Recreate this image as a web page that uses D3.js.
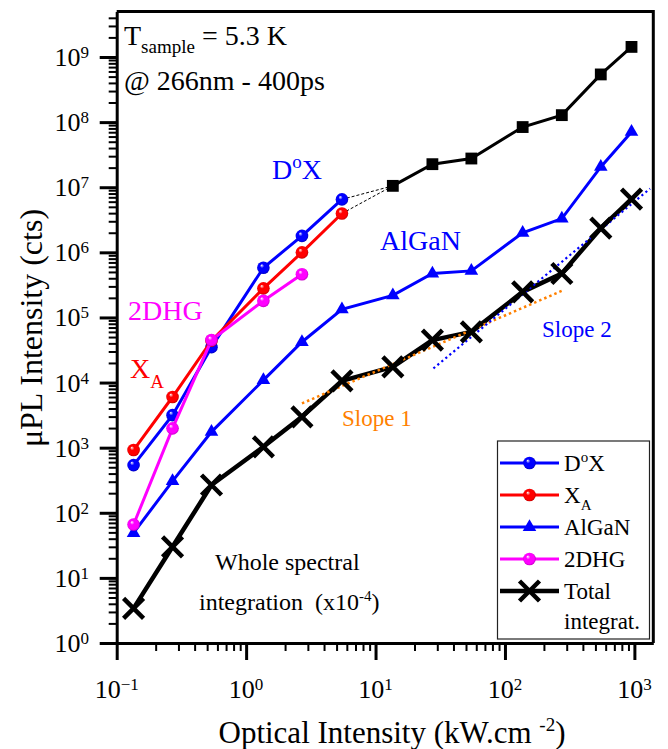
<!DOCTYPE html>
<html>
<head>
<meta charset="utf-8">
<script src="https://cdn.jsdelivr.net/npm/d3@7"></script>
<style>
  html, body { margin: 0; padding: 0; background: #fff; }
  svg { display: block; }
</style>
</head>
<body>
<div id="chart"></div>
<script>
// Excitation power densities (kW/cm^2)
const excitation = [0.135, 0.27, 0.54, 1.36, 2.7, 5.5, 13.6, 27.5, 55, 137, 275, 550, 950];

// Low-power emission lines (first points of the excitation list)
const doxLow  = [540, 3160, 35000, 580000, 1.79e6, 6.5e6];
const xaLow   = [920, 6000, 44000, 280000, 1.0e6, 3.95e6];
const dhgLow  = [66, 1980, 45000, 180000, 460000];
// D°X continued at high power (excitation points 7..13)
const doxHigh = [1.05e7, 2.26e7, 2.76e7, 8.4e7, 1.28e8, 5.4e8, 1.43e9];
// AlGaN barrier emission
const algan   = [49, 307, 1750, 10900, 42000, 133000, 218000, 473000, 519000, 2.0e6, 3.3e6, 2.05e7, 7.07e7];
// Whole spectral integration (x1e-4)
const total   = [3.4, 30, 267, 1030, 2980, 10600, 17400, 44800, 60000, 247000, 473000, 2.35e6, 6.55e6];

// Power-law fit guides
const slope1X = [2.7, 275],  slope1Y = [4780, 256000];
const slope2X = [28, 1320],  slope2Y = [16500, 9.5e6];

// Axis ticks
const xMajor = [0.1, 1, 10, 100, 1000];
const yMajor = [1, 10, 100, 1e3, 1e4, 1e5, 1e6, 1e7, 1e8, 1e9];

// Legend entries
const legendNames = ["D°X", "XA", "AlGaN", "2DHG", "Total"];

const W = 668, H = 749;
const BLUE = "#0000ff", RED = "#ff0000", MAG = "#ff00ff", ORANGE = "#ff8000";

const svg = d3.select("#chart").append("svg")
  .attr("width", W).attr("height", H)
  .style("font-family", "'Liberation Serif','Times New Roman',serif");

const x = d3.scaleLog().domain([0.1, 1400]).range([116.7, 653.3]);
const y = d3.scaleLog().domain([1, 5e9]).range([643, 11.5]);

// Shaded-sphere gradients for ball markers
const defs = svg.append("defs");
function ballGrad(id, base, dark) {
  const g = defs.append("radialGradient").attr("id", id)
    .attr("cx", "50%").attr("cy", "50%").attr("r", "55%")
    .attr("fx", "35%").attr("fy", "30%");
  g.append("stop").attr("offset", "0%").attr("stop-color", "#ffffff");
  g.append("stop").attr("offset", "30%").attr("stop-color", base);
  g.append("stop").attr("offset", "75%").attr("stop-color", base);
  g.append("stop").attr("offset", "100%").attr("stop-color", dark);
}
ballGrad("ball-blue", BLUE, "#0000a8");
ballGrad("ball-red", RED, "#b40000");
ballGrad("ball-mag", MAG, "#b400b4");

function minorTicks(lo, hi) {
  const out = [];
  for (let e = Math.floor(Math.log10(lo)); e <= Math.ceil(Math.log10(hi)); e++) {
    for (let k = 2; k <= 9; k++) {
      const v = k * Math.pow(10, e);
      if (v > lo * 1.0001 && v < hi * 0.9999) out.push(v);
    }
  }
  return out;
}
const expText = d => { const e = Math.round(Math.log10(d)); return e < 0 ? "\u2212" + (-e) : String(e); };

// ---- Axes ----
const gxMinor = svg.append("g").attr("transform", "translate(0,643)")
  .call(d3.axisBottom(x).tickValues(minorTicks(0.1, 1400)).tickSize(8).tickSizeOuter(0).tickFormat(""));
const gxMajor = svg.append("g").attr("transform", "translate(0,643)")
  .call(d3.axisBottom(x).tickValues(xMajor).tickSize(17).tickSizeOuter(0).tickFormat(""));
const gyMinor = svg.append("g").attr("transform", "translate(116.7,0)")
  .call(d3.axisLeft(y).tickValues(minorTicks(1, 5e9)).tickSize(8).tickSizeOuter(0).tickFormat(""));
const gyMajor = svg.append("g").attr("transform", "translate(116.7,0)")
  .call(d3.axisLeft(y).tickValues(yMajor).tickSize(17).tickSizeOuter(0).tickFormat(""));

[gxMinor, gyMinor].forEach(g => {
  g.selectAll(".tick line").attr("stroke", "#000").attr("stroke-width", 2);
  g.select(".domain").remove();
});
[gxMajor, gyMajor].forEach(g => {
  g.selectAll(".tick line").attr("stroke", "#000").attr("stroke-width", 3);
  g.select(".domain").attr("stroke", "#000").attr("stroke-width", 3);
});

// Top and right frame
svg.append("path")
  .attr("d", `M${x.range()[0]},${y.range()[1]}H${x.range()[1]}V${y.range()[0]}`)
  .attr("fill", "none").attr("stroke", "#000").attr("stroke-width", 3);

// Tick labels
const xl = svg.append("g").selectAll("text").data(xMajor).join("text")
  .attr("x", d => x(d)).attr("y", 698).attr("text-anchor", "middle").attr("font-size", 26);
xl.append("tspan").text("10");
xl.append("tspan").attr("font-size", 17).attr("dy", -8).text(expText);

const yl = svg.append("g").selectAll("text").data(yMajor).join("text")
  .attr("x", 89).attr("y", d => y(d) + 9).attr("text-anchor", "end").attr("font-size", 26);
yl.append("tspan").text("10");
yl.append("tspan").attr("font-size", 17).attr("dy", -8).text(expText);

// Axis titles
const xt = svg.append("text").attr("x", 392).attr("y", 743).attr("text-anchor", "middle").attr("font-size", 31);
xt.append("tspan").text("Optical Intensity (kW.cm ");
xt.append("tspan").attr("font-size", 19).attr("dy", -12).text("-2");
xt.append("tspan").attr("dy", 12).text(")");

svg.append("text").attr("transform", "translate(42,328) rotate(-90)")
  .attr("text-anchor", "middle").attr("font-size", 32).text("\u03bcPL Intensity (cts)");

// ---- Data ----
const pts = (xs, ys) => ys.map((v, i) => [xs[i], v]);
const line = d3.line().x(d => x(d[0])).y(d => y(d[1]));
const plot = svg.append("g");

const totalPts = pts(excitation, total);
const alganPts = pts(excitation, algan);
const doxHighPts = pts(excitation.slice(6), doxHigh);
const doxLowPts = pts(excitation, doxLow);
const xaLowPts = pts(excitation, xaLow);
const dhgLowPts = pts(excitation, dhgLow);

// Dashed links between low-power D°X / XA and high-power D°X
[doxLowPts, xaLowPts].forEach(p => {
  plot.append("path").attr("d", line([p[p.length - 1], doxHighPts[0]]))
    .attr("fill", "none").attr("stroke", "#000").attr("stroke-width", 1)
    .attr("stroke-dasharray", "3,2");
});

// Whole spectral integration
plot.append("path").attr("d", line(totalPts)).attr("fill", "none")
  .attr("stroke", "#000").attr("stroke-width", 4.5).attr("stroke-linejoin", "round");

// Fit guides
plot.append("path").attr("d", line(pts(slope1X, slope1Y))).attr("fill", "none")
  .attr("stroke", ORANGE).attr("stroke-width", 2.5).attr("stroke-dasharray", "2.5,3");
plot.append("path").attr("d", line(pts(slope2X, slope2Y))).attr("fill", "none")
  .attr("stroke", BLUE).attr("stroke-width", 2.2).attr("stroke-dasharray", "2.2,3");

const crossPath = "M-10,-10L10,10M-10,10L10,-10";
plot.append("g").selectAll("path").data(totalPts).join("path")
  .attr("transform", d => `translate(${x(d[0])},${y(d[1])})`)
  .attr("d", crossPath).attr("stroke", "#000").attr("stroke-width", 4.5).attr("fill", "none");

// High-power D°X (squares)
plot.append("path").attr("d", line(doxHighPts)).attr("fill", "none")
  .attr("stroke", "#000").attr("stroke-width", 3);
plot.append("g").selectAll("path").data(doxHighPts).join("path")
  .attr("transform", d => `translate(${x(d[0])},${y(d[1])})`)
  .attr("d", d3.symbol(d3.symbolSquare, 140)).attr("fill", "#000");

// AlGaN (triangles)
plot.append("path").attr("d", line(alganPts)).attr("fill", "none")
  .attr("stroke", BLUE).attr("stroke-width", 3);
plot.append("g").selectAll("path").data(alganPts).join("path")
  .attr("transform", d => `translate(${x(d[0])},${y(d[1])})`)
  .attr("d", d3.symbol(d3.symbolTriangle, 80)).attr("fill", BLUE);

// Ball series
function ballSeries(p, color, grad) {
  plot.append("path").attr("d", line(p)).attr("fill", "none")
    .attr("stroke", color).attr("stroke-width", 3);
  plot.append("g").selectAll("circle").data(p).join("circle")
    .attr("cx", d => x(d[0])).attr("cy", d => y(d[1])).attr("r", 6.3)
    .attr("fill", `url(#${grad})`);
}
ballSeries(doxLowPts, BLUE, "ball-blue");
ballSeries(xaLowPts, RED, "ball-red");
ballSeries(dhgLowPts, MAG, "ball-mag");

// ---- Annotations ----
const ann = svg.append("g");
const t1 = ann.append("text").attr("x", 124).attr("y", 45).attr("font-size", 28);
t1.append("tspan").text("T");
t1.append("tspan").attr("font-size", 19).attr("dy", 7.5).text("sample");
t1.append("tspan").attr("dy", -7.5).text(" = 5.3 K");
ann.append("text").attr("x", 124).attr("y", 90).attr("font-size", 28).text("@ 266nm - 400ps");

const dl = ann.append("text").attr("x", 272).attr("y", 179).attr("font-size", 28).attr("fill", BLUE);
dl.append("tspan").text("D");
dl.append("tspan").attr("font-size", 19).attr("dy", -11).text("o");
dl.append("tspan").attr("dy", 11).text("X");

ann.append("text").attr("x", 380).attr("y", 250).attr("font-size", 28).attr("fill", BLUE).text("AlGaN");
ann.append("text").attr("x", 128).attr("y", 320).attr("font-size", 28).attr("fill", MAG).text("2DHG");
const xa = ann.append("text").attr("x", 130).attr("y", 378).attr("font-size", 28).attr("fill", RED);
xa.append("tspan").text("X");
xa.append("tspan").attr("font-size", 19).attr("dy", 10).text("A");

ann.append("text").attr("x", 342).attr("y", 426).attr("font-size", 23).attr("fill", ORANGE).text("Slope 1");
ann.append("text").attr("x", 542).attr("y", 337).attr("font-size", 23).attr("fill", BLUE).text("Slope 2");

ann.append("text").attr("x", 215).attr("y", 570).attr("font-size", 24).text("Whole spectral");
const wi = ann.append("text").attr("x", 199).attr("y", 610).attr("font-size", 24);
wi.append("tspan").text("integration\u00a0\u00a0(x10");
wi.append("tspan").attr("font-size", 15).attr("dy", -9).text("-4");
wi.append("tspan").attr("dy", 9).text(")");

// ---- Legend ----
const lg = svg.append("g");
lg.append("rect").attr("x", 497.5).attr("y", 441).attr("width", 152).attr("height", 198)
  .attr("fill", "#fff").attr("stroke", "#222").attr("stroke-width", 1.2);
const rowY = i => 463 + i * 32;
const lx0 = 500, lx1 = 559, lmx = 529.5, ltx = 564;
const legendStyle = [
  { color: BLUE, kind: "ball", grad: "ball-blue" },
  { color: RED, kind: "ball", grad: "ball-red" },
  { color: BLUE, kind: "tri" },
  { color: MAG, kind: "ball", grad: "ball-mag" },
  { color: "#000", kind: "cross" }
];
legendNames.forEach((name, i) => {
  const s = legendStyle[i], yy = rowY(i);
  lg.append("line").attr("x1", lx0).attr("x2", lx1).attr("y1", yy).attr("y2", yy)
    .attr("stroke", s.color).attr("stroke-width", s.kind === "cross" ? 4.5 : 3);
  if (s.kind === "ball") {
    lg.append("circle").attr("cx", lmx).attr("cy", yy).attr("r", 6.3).attr("fill", `url(#${s.grad})`);
  } else if (s.kind === "tri") {
    lg.append("path").attr("transform", `translate(${lmx},${yy})`)
      .attr("d", d3.symbol(d3.symbolTriangle, 80)).attr("fill", s.color);
  } else {
    lg.append("path").attr("transform", `translate(${lmx},${yy})`)
      .attr("d", crossPath).attr("stroke", "#000").attr("stroke-width", 4.5);
  }
  const t = lg.append("text").attr("x", ltx).attr("y", yy + 8).attr("font-size", 23);
  if (name === "D°X") {
    t.append("tspan").text("D");
    t.append("tspan").attr("font-size", 15).attr("dy", -9).text("o");
    t.append("tspan").attr("dy", 9).text("X");
  } else if (name === "XA") {
    t.append("tspan").text("X");
    t.append("tspan").attr("font-size", 15).attr("dy", 7).text("A");
  } else {
    t.text(name);
  }
});
lg.append("text").attr("x", ltx).attr("y", rowY(4) + 38).attr("font-size", 23).text("integrat.");
</script>
</body>
</html>
